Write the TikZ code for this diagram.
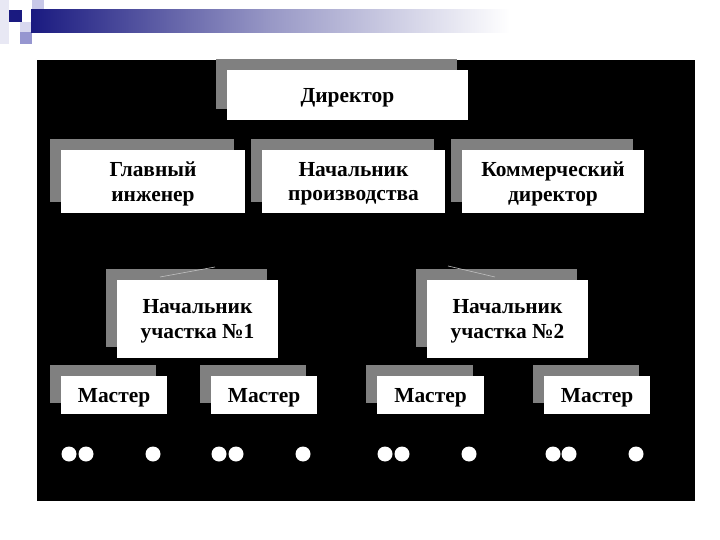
\documentclass[tikz,border=0pt]{standalone}
\usepackage{fontspec}
\setmainfont{Liberation Serif}
\usetikzlibrary{shadows}
\definecolor{shadowgray}{RGB}{128,128,128}
\definecolor{navy}{RGB}{26,26,128}
\definecolor{lav1}{RGB}{200,200,232}
\definecolor{lav2}{RGB}{150,150,208}
\definecolor{lav0}{RGB}{232,232,244}
\tikzset{
  orgbox/.style={fill=white, draw=none, align=center, inner sep=0pt, text depth=0pt,
    font=\bfseries\fontsize{21.5}{25}\selectfont,
    general shadow={fill=shadowgray, shadow xshift=-11bp, shadow yshift=11bp}},
  dot/.style={circle, fill=white, draw=none, minimum size=15bp, inner sep=0pt},
  trace/.style={draw=white!75!black, line width=0.6bp}
}
\begin{document}
\begin{tikzpicture}[x=1bp, y=-1bp]
\useasboundingbox (0,0) rectangle (720,540);
% decoration
\fill[lav0] (0,0) rectangle (9,44);
\fill[lav1] (32,0) rectangle (44,22);
\fill[navy] (9,10) rectangle (22,22);
\fill[lav1!70!white] (20,22) rectangle (32,32);
\fill[lav2] (20,32) rectangle (32,44);
\shade[left color=navy, right color=white, middle color=navy!45!white] (31,10) rectangle (510,33);
% background
\fill[black] (37,60) rectangle (695,501);
% boxes
\node[orgbox, minimum width=241bp, minimum height=50bp] (dir) at (347.5,95) {Директор};
\node[orgbox, minimum width=184bp, minimum height=63bp] (gi) at (153,181.5) {Главный\\инженер};
\node[orgbox, minimum width=183bp, minimum height=63bp] (np) at (353.5,181.5) {Начальник\\производства};
\node[orgbox, minimum width=182bp, minimum height=63bp] (kd) at (553,181.5) {Коммерческий\\директор};
\node[orgbox, minimum width=161bp, minimum height=78bp] (nu1) at (197.5,319) {Начальник\\участка №1};
\node[orgbox, minimum width=161bp, minimum height=78bp] (nu2) at (507.5,319) {Начальник\\участка №2};
\node[orgbox, minimum width=106bp, minimum height=38bp] (m1) at (114,395) {Мастер};
\node[orgbox, minimum width=106bp, minimum height=38bp] (m2) at (264,395) {Мастер};
\node[orgbox, minimum width=107bp, minimum height=38bp] (m3) at (430.5,395) {Мастер};
\node[orgbox, minimum width=106bp, minimum height=38bp] (m4) at (597,395) {Мастер};
% worker dots
\foreach \i/\x in {a/69, b/86, c/153, d/219, e/236, f/303, g/385, h/402, i/469, j/553, k/569, l/636}
  \node[dot] (w\i) at (\x,454) {};
% stray traces
\coordinate (t1a) at (160,277); \coordinate (t1b) at (215,267);
\coordinate (t2a) at (448,266); \coordinate (t2b) at (495,277);
\draw[trace] (t1a) -- (t1b);
\draw[trace] (t2a) -- (t2b);
\end{tikzpicture}
\end{document}
